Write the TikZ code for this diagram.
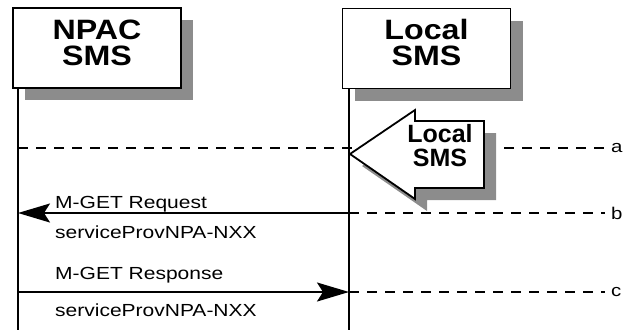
\documentclass[tikz,border=0pt]{standalone}
\usepackage{fontspec}
\setmainfont{Liberation Sans}
\newfontfamily\kopffont{Liberation Sans}[FakeStretch=1.15]
\newfontfamily\nachrfont{Liberation Sans}[FakeStretch=1.2]
\usetikzlibrary{arrows.meta,shadows,positioning}

\tikzset{
  kasten/.style={draw, fill=white, line width=1.8pt, minimum width=168pt, minimum height=80pt,
    drop shadow={shadow xshift=12pt, shadow yshift=-12pt, fill=black!45, opacity=1}},
  kopf/.style={font=\kopffont\bfseries\fontsize{28}{26}\selectfont, align=center, inner sep=0pt},
  pfeiltext/.style={font=\bfseries\fontsize{25}{24}\selectfont, align=center, inner sep=0pt},
  nachricht/.style={font=\nachrfont\fontsize{17.5}{20}\selectfont, inner sep=0pt, anchor=base west},
  endmarke/.style={font=\nachrfont\fontsize{17}{20}\selectfont, anchor=west, inner xsep=6pt, inner ysep=0pt},
  linie/.style={line width=1.8pt},
  gestrichelt/.style={line width=1.8pt, dash pattern=on 10pt off 8pt},
  spitze/.style={-{Stealth[length=32pt,width=19pt,inset=6pt]}},
  schatten/.style={fill=black!45}
}

\begin{document}
\begin{tikzpicture}[x=1pt,y=-1pt]
\useasboundingbox (0,0) rectangle (626,330);
%Lebenslinien unten, Zeilen a, b, c
\coordinate (npacFuss) at (18,330);
\coordinate (localFuss) at (349,330);
\coordinate (nA) at (18,148);
\coordinate (nB) at (18,213);
\coordinate (lB) at (349,213);
\coordinate (nC) at (18,292);
\coordinate (lC) at (349,292);
\node[endmarke] (labA) at (605,148) {a};
\node[endmarke] (labB) at (605,213) {b};
\node[endmarke] (labC) at (605,292) {c};
\draw[gestrichelt] (nA) -- (labA);
\draw[gestrichelt] (lB) -- (labB);
\draw[gestrichelt] (lC) -- (labC);
%Blockpfeil mit Schatten
\def\pfeil{(350,154) -- (415,110) -- (415,121) -- (484,121) -- (484,188) -- (415,188) -- (415,199) -- cycle}
\fill[schatten, shift={(12,12)}] \pfeil;
\draw[linie, fill=white] \pfeil;
\node[pfeiltext] (pfeilName) at (440,146) {Local\\SMS};
%Kaesten
\node[kasten] (npac) at (97,48) {};
\node[kasten] (local) at (426.5,48.5) {};
\node[kopf] (npacName) at (97,43) {NPAC\\SMS};
\node[kopf] (localName) at (426.5,42) {Local\\SMS};
\draw[linie] (npacFuss |- npac.south) -- (npacFuss);
\draw[linie] (localFuss |- local.south) -- (localFuss);
%Nachrichten
\draw[linie, spitze] (lB) -- (nB);
\draw[linie, spitze] (nC) -- (lC);
\node[nachricht] (reqName) at (55,208) {M-GET Request};
\node[nachricht] (reqArg) at (55,238) {serviceProvNPA-NXX};
\node[nachricht] (respName) at (55,279) {M-GET Response};
\node[nachricht] (respArg) at (55,316) {serviceProvNPA-NXX};
\end{tikzpicture}
\end{document}
